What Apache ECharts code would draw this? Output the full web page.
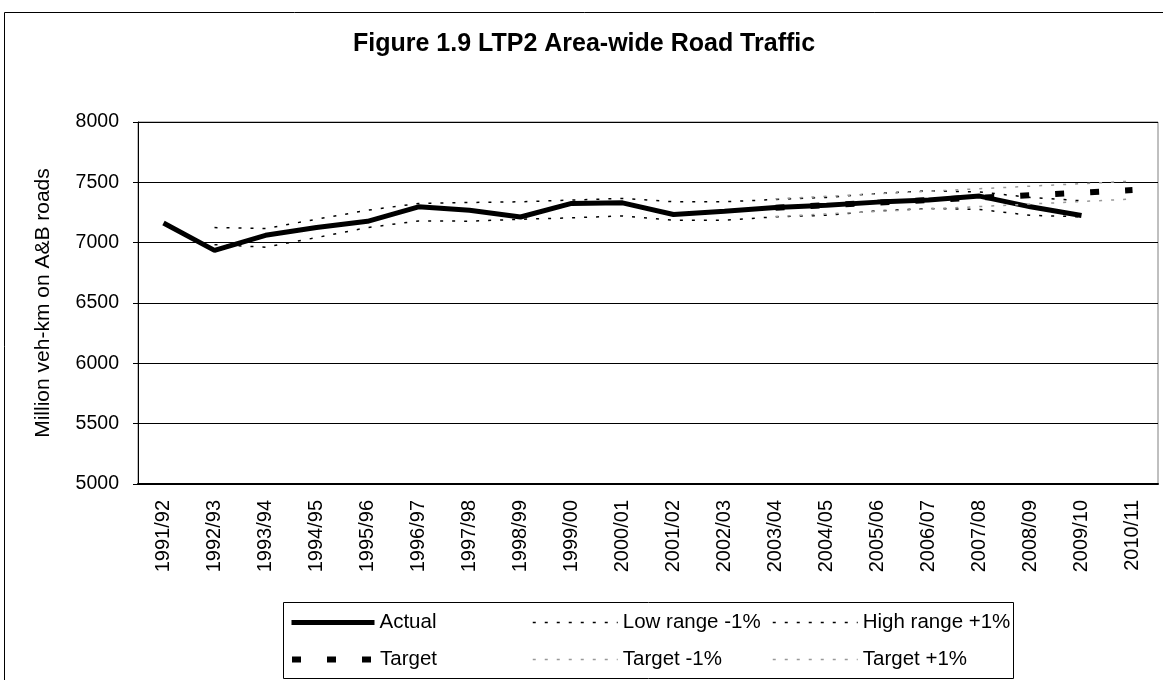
<!DOCTYPE html>
<html>
<head>
<meta charset="utf-8">
<script src="https://cdn.jsdelivr.net/npm/echarts@6/dist/echarts.min.js"></script>
<style>
  html, body { margin: 0; padding: 0; background: #fff; }
  #chart { width: 1163px; height: 680px; }
</style>
</head>
<body>
<div id="chart"></div>
<script>
// years along the x axis
const years = [
  "1991/92", "1992/93", "1993/94", "1994/95", "1995/96", "1996/97", "1997/98",
  "1998/99", "1999/00", "2000/01", "2001/02", "2002/03", "2003/04", "2004/05",
  "2005/06", "2006/07", "2007/08", "2008/09", "2009/10", "2010/11"
];

// values (million veh-km)
const actual = [7163, 6936, 7061, 7125, 7177, 7297, 7269, 7213, 7325, 7330,
  7233, 7261, 7292, 7311, 7336, 7353, 7386, 7297, 7225, null];
const lowRange = [null, 6983, 6963, 7042, 7125, 7180, 7178, 7194, 7206, 7222,
  7186, 7186, 7214, 7227, 7264, 7283, 7275, 7227, 7214, null];
const highRange = [null, 7125, 7117, 7194, 7269, 7325, 7333, 7339, 7353, 7367,
  7339, 7339, 7358, 7375, 7408, 7430, 7420, 7375, 7347, null];
const target = [null, null, null, null, null, null, null, null, null, null,
  null, null, 7290, 7311, 7332, 7353, 7373, 7394, 7415, 7436];
const targetLow = [null, null, null, null, null, null, null, null, null, null,
  null, null, 7217, 7238, 7259, 7280, 7299, 7320, 7341, 7362];
const targetHigh = [null, null, null, null, null, null, null, null, null, null,
  null, null, 7363, 7384, 7405, 7426, 7447, 7468, 7489, 7510];

const yTicks = { min: 5000, max: 8000, interval: 500 };

const FONT = "'Liberation Sans', Arial, sans-serif";

const chart = echarts.init(document.getElementById("chart"));

const lineSeries = (name, data, color, width, type) => ({
  name,
  type: "line",
  data,
  symbol: "none",
  connectNulls: false,
  lineStyle: { color, width, type, cap: "butt" },
  itemStyle: { color },
  emphasis: { disabled: true }
});

// one legend per entry so the columns line up like the original
const legendItem = (name, left, top, width) => ({
  data: [name],
  left,
  top,
  padding: 0,
  itemWidth: width,
  itemHeight: 14,
  selectedMode: false,
  itemStyle: { opacity: 0 },
  lineStyle: { width: "inherit" },
  textStyle: { fontFamily: FONT, fontSize: 20.5, color: "#000" }
});

const option = {
  backgroundColor: "#fff",
  animation: false,
  title: {
    text: "Figure 1.9 LTP2 Area-wide Road Traffic",
    left: 353,
    top: 32,
    padding: 0,
    textStyle: { fontFamily: FONT, fontSize: 25, fontWeight: "bold", color: "#000" }
  },
  graphic: [
    {
      type: "rect",
      shape: { x: 4.5, y: 12.5, width: 1180, height: 700 },
      style: { fill: null, stroke: "#000", lineWidth: 1 },
      silent: true
    },
    {
      type: "rect",
      shape: { x: 283.5, y: 602.5, width: 730, height: 76 },
      style: { fill: null, stroke: "#000", lineWidth: 1 },
      silent: true
    }
  ],
  legend: [
    legendItem("Actual", 289, 612, 83),
    legendItem("Low range -1%", 532, 612, 85),
    legendItem("High range +1%", 772, 612, 85),
    legendItem("Target", 289, 649, 83),
    legendItem("Target -1%", 532, 649, 85),
    legendItem("Target +1%", 772, 649, 85)
  ],
  grid: {
    left: 138,
    right: 5,
    top: 122,
    bottom: 196,
    show: true,
    borderColor: "#808080",
    borderWidth: 1
  },
  xAxis: {
    type: "category",
    data: years,
    boundaryGap: true,
    axisLine: { lineStyle: { color: "#000", width: 2 } },
    axisTick: { length: 5, lineStyle: { color: "#000" } },
    axisLabel: {
      interval: 0,
      rotate: 90,
      margin: 16,
      fontFamily: FONT,
      fontSize: 20,
      color: "#000"
    }
  },
  yAxis: {
    type: "value",
    min: yTicks.min,
    max: yTicks.max,
    interval: yTicks.interval,
    name: "Million veh-km on A&B roads",
    nameLocation: "middle",
    nameRotate: 90,
    nameGap: 84,
    nameTextStyle: { fontFamily: FONT, fontSize: 21, color: "#000" },
    axisLine: { show: true, lineStyle: { color: "#000", width: 1 } },
    axisTick: { show: true, length: 5, lineStyle: { color: "#000" } },
    axisLabel: {
      margin: 19,
      fontFamily: FONT,
      fontSize: 19.5,
      color: "#000",
      formatter: (v) => String(v)
    },
    splitLine: { lineStyle: { color: "#000", width: 1 } }
  },
  series: [
    lineSeries("Actual", actual, "#000", 5, "solid"),
    lineSeries("Low range -1%", lowRange, "#000", 1.5, [3, 9]),
    lineSeries("High range +1%", highRange, "#000", 1.5, [3, 9]),
    lineSeries("Target", target, "#000", 6, [9, 26]),
    lineSeries("Target -1%", targetLow, "#999", 1.5, [3, 9]),
    lineSeries("Target +1%", targetHigh, "#999", 1.5, [3, 9])
  ]
};

chart.setOption(option);
window.addEventListener("resize", () => chart.resize());
</script>
</body>
</html>
